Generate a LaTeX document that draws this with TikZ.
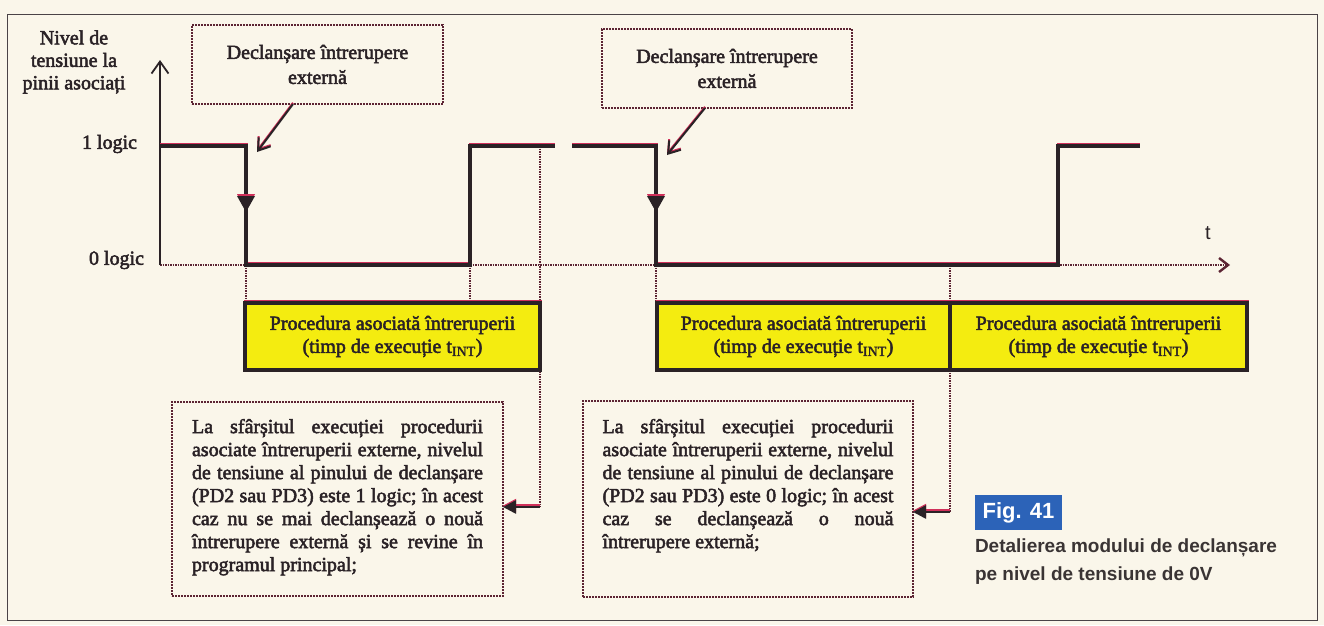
\documentclass[tikz,border=0pt]{standalone}
\usepackage{fontspec}
\setmainfont{Liberation Serif}[RawFeature={embolden=2.5}]
\newfontfamily\capsans{Liberation Sans}
\usetikzlibrary{arrows.meta}
\definecolor{paper}{HTML}{FAF6EA}
\definecolor{ink}{HTML}{2A2226}
\definecolor{misred}{HTML}{D0305A}
\definecolor{dotcol}{HTML}{5C2433}
\definecolor{boxyellow}{HTML}{F4EC10}
\definecolor{figblue}{HTML}{2C63B8}
\definecolor{capgray}{HTML}{3A3434}
\newcommand\tINT{\textsubscript{INT}}
\begin{document}
\begin{tikzpicture}[x=1pt,y=-1pt,
  every node/.style={inner sep=0pt, outer sep=0pt},
  txt/.style={font=\fontsize{20}{23}\selectfont, text=ink},
  dotbox/.style={draw=dotcol, line width=2.6pt, dash pattern=on 2pt off 1pt, fill=paper, txt, align=center},
  ybox/.style={draw=ink, line width=3.2pt, fill=boxyellow, txt, align=center,
    preaction={draw=misred, line width=3pt, transform canvas={yshift=1.8pt}}},
  sig/.style={draw=ink, line width=3.4pt, line join=miter,
    preaction={draw=misred, line width=3pt, transform canvas={yshift=2pt}}},
  guide/.style={draw=dotcol, line width=1.5pt, dash pattern=on 1.5pt off 1pt},
  callout/.style={draw=ink, line width=2pt, -{Straight Barb[length=11pt,width=15pt,line width=2pt]},
    preaction={draw=misred, line width=2pt, transform canvas={yshift=1.2pt}}},
  conn/.style={draw=ink, line width=2.5pt, -{Triangle[length=13pt,width=13pt]},
    preaction={draw=misred, line width=2.5pt, transform canvas={yshift=1.4pt}}},
  lbl/.style={txt, align=center},
]
\useasboundingbox (0,0) rectangle (1324,625);
\fill[paper] (0,0) rectangle (1324,625);
\draw[ink!85, line width=1pt] (7,14) rectangle (1317,620);

% axes
\coordinate (origin) at (160,265);
\coordinate (ytop) at (160,60);
\coordinate (tend) at (1230,265);
\draw[guide, line width=2pt, -{Straight Barb[length=9pt,width=14pt,line width=2.4pt]}] (origin) -- (tend);
\draw[ink, line width=1.8pt, -{Straight Barb[length=12pt,width=17pt,line width=1.8pt]}] (origin) -- (ytop);

% labels
\node[lbl, font=\fontsize{20}{22.5}\selectfont] (ylab) at (74,62) {Nivel de\\tensiune la\\pinii asociați};
\node[lbl, anchor=east] (l1) at (137,144) {1 logic};
\node[lbl, anchor=east] (l0) at (144,260) {0 logic};
\node[txt, font=\capsans\fontsize{20}{20}\selectfont] (tl) at (1208,233) {t};

% signal coordinates
\coordinate (p0) at (160,146); \coordinate (p1) at (246,146);
\coordinate (p2) at (246,265); \coordinate (p3) at (470,265);
\coordinate (p4) at (470,146); \coordinate (p5) at (555,146);
\coordinate (q0) at (572,146); \coordinate (q1) at (656,146);
\coordinate (q2) at (656,265); \coordinate (q3) at (1058,265);
\coordinate (q4) at (1058,146); \coordinate (q5) at (1140,146);
\coordinate (g1) at (540,146); \coordinate (g2) at (950,265);
\coordinate (c1) at (540,507);
\coordinate (c2) at (950,512);

% guide lines (drawn first, boxes cover them)
\draw[guide] (p2) -- (p2 |- 0,303);
\draw[guide] (p3) -- (p3 |- 0,303);
\draw[guide] (q2) -- (q2 |- 0,303);
\draw[guide] (g1) -- (c1);
\draw[guide] (g2) -- (c2);

% yellow boxes
\node[ybox, minimum width=295pt, minimum height=67pt] (y1) at (392.5,336.5)
  {Procedura asociată întreruperii\\(timp de execuție t\tINT)};
\node[ybox, minimum width=293pt, minimum height=67pt] (y2) at (803.5,336.5)
  {Procedura asociată întreruperii\\(timp de execuție t\tINT)};
\node[ybox, minimum width=297pt, minimum height=67pt] (y3) at (1098.5,336.5)
  {Procedura asociată întreruperii\\(timp de execuție t\tINT)};

% signal
\draw[sig] (p0) -- (p1) -- (p2) -- (p3) -- (p4) -- (p5);
\draw[sig] (q0) -- (q1) -- (q2) -- (q3) -- (q4) -- (q5);
\fill[ink, preaction={fill=misred, transform canvas={yshift=1.8pt}}] (237,196) -- (255,196) -- (246,212) -- cycle;
\fill[ink, preaction={fill=misred, transform canvas={yshift=1.8pt}}] (647,196) -- (665,196) -- (656,212) -- cycle;

% top callouts
\node[dotbox, font=\fontsize{20}{25}\selectfont, minimum width=251pt, minimum height=79pt] (ta) at (317.5,64.5)
  {Declanșare întrerupere\\externă};
\node[dotbox, font=\fontsize{20}{25}\selectfont, minimum width=250pt, minimum height=79pt] (tb) at (727,68.5)
  {Declanșare întrerupere\\externă};
\coordinate (ha) at (257,152);
\coordinate (hb) at (667,155);
\draw[callout] ([xshift=-24.5pt]ta.south) -- (ha);
\draw[callout] ([xshift=-22pt]tb.south) -- (hb);

% bottom boxes
\node[dotbox, minimum width=331pt, minimum height=194pt] (bc) at (337.5,499)
  {\parbox[c][160pt][t]{291pt}{La sfârșitul execuției procedurii\linebreak
  asociate întreruperii externe, nivelul\linebreak
  de tensiune al pinului de declanșare\linebreak
  (PD2 sau PD3) este 1 logic; în acest\linebreak
  caz nu se mai declanșează o nouă\linebreak
  întrerupere externă și se revine în\linebreak
  programul principal;}};
\node[dotbox, minimum width=330pt, minimum height=196pt] (bd) at (748,499)
  {\parbox[c][160pt][t]{291pt}{La sfârșitul execuției procedurii\linebreak
  asociate întreruperii externe, nivelul\linebreak
  de tensiune al pinului de declanșare\linebreak
  (PD2 sau PD3) este 0 logic; în acest\linebreak
  caz se declanșează o nouă\linebreak
  întrerupere externă;}};
\draw[conn] (c1) -- (bc.east |- c1);
\draw[conn] (c2) -- (bd.east |- c2);

% figure caption
\node[fill=figblue, text=white, font=\capsans\bfseries\fontsize{22}{22}\selectfont,
  minimum width=87pt, minimum height=35pt] (fig) at (1018.5,512.5) {Fig. 41};
\node[anchor=north west, align=left, text=capgray, font=\capsans\bfseries\fontsize{19}{28}\selectfont]
  (cap) at (975,539) {Detalierea modului de declanșare\\pe nivel de tensiune de 0V};
\end{tikzpicture}
\end{document}
